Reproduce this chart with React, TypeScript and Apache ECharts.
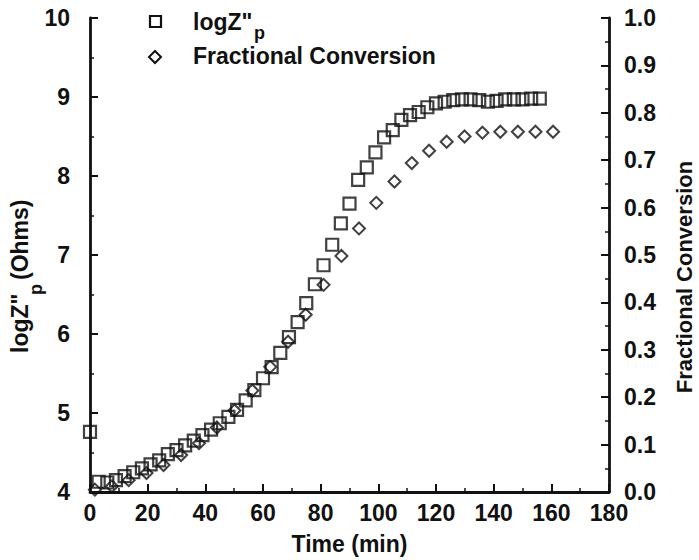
import React, { useEffect, useRef } from "react";
import * as echarts from "echarts";

const timeZ = [0, 3, 6, 9, 12, 15, 18, 21, 24, 27, 30, 33, 36, 39, 42, 45, 48, 51, 54, 57, 60, 63, 66, 69, 72, 75, 78, 81, 84, 87, 90, 93, 96, 99, 102, 105, 108, 111, 114, 117, 120, 123, 126, 129, 132, 135, 138, 141, 144, 147, 150, 153, 156];
const logZ = [4.76, 4.13, 4.12, 4.15, 4.2, 4.25, 4.3, 4.35, 4.4, 4.48, 4.53, 4.59, 4.65, 4.72, 4.79, 4.87, 4.95, 5.04, 5.16, 5.29, 5.44, 5.58, 5.76, 5.96, 6.15, 6.39, 6.63, 6.87, 7.13, 7.4, 7.65, 7.95, 8.11, 8.3, 8.49, 8.58, 8.71, 8.77, 8.81, 8.87, 8.92, 8.94, 8.96, 8.97, 8.97, 8.96, 8.94, 8.95, 8.97, 8.97, 8.97, 8.98, 8.98];

const timeC = [1.7, 7.6, 13.4, 19.6, 25.5, 31.6, 37.8, 44, 50.1, 56.3, 62.5, 68.7, 74.8, 81, 87.2, 93.3, 99.3, 105.6, 111.6, 117.6, 123.7, 129.9, 136.1, 142.3, 148.4, 154.5, 160.6];
const conversion = [0.005, 0.012, 0.025, 0.04, 0.057, 0.078, 0.103, 0.136, 0.172, 0.214, 0.264, 0.317, 0.374, 0.437, 0.498, 0.556, 0.61, 0.655, 0.694, 0.72, 0.739, 0.75, 0.758, 0.76, 0.76, 0.76, 0.76];

const FONT = "'Liberation Sans', Arial, sans-serif";
const INK = "#111";

export default function App() {
  const ref = useRef<HTMLDivElement>(null);
  useEffect(() => {
    if (!ref.current) return;
    const chart = echarts.init(ref.current, null, { renderer: "svg" });
    const axisCommon = {
      axisLine: { show: true, lineStyle: { color: INK, width: 2.8 } },
      axisTick: { show: true, inside: true, length: 8, lineStyle: { color: INK, width: 2 } },
      minorTick: { show: true, splitNumber: 2, length: 4, lineStyle: { color: INK, width: 1.5 } },
      splitLine: { show: false },
      minorSplitLine: { show: false },
      axisLabel: { color: INK, fontFamily: FONT, fontWeight: "bold", fontSize: 23 },
    };
    chart.setOption({
      animation: false,
      backgroundColor: "#fff",
      grid: { left: 90, right: 90, top: 18, bottom: 68 },
      xAxis: {
        type: "value",
        min: 0,
        max: 180,
        interval: 20,
        name: "Time (min)",
        nameLocation: "middle",
        nameGap: 40,
        nameTextStyle: { color: INK, fontFamily: FONT, fontWeight: "bold", fontSize: 23 },
        ...axisCommon,
        axisLabel: { ...axisCommon.axisLabel, margin: 9 },
      },
      yAxis: [
        {
          type: "value",
          min: 4,
          max: 10,
          interval: 1,
          position: "left",
          ...axisCommon,
          axisLabel: { ...axisCommon.axisLabel, margin: 20 },
        },
        {
          type: "value",
          min: 0,
          max: 1,
          interval: 0.1,
          position: "right",
          ...axisCommon,
          axisLabel: {
            ...axisCommon.axisLabel,
            margin: 15,
            formatter: (v: number) => v.toFixed(1),
          },
        },
      ],
      series: [
        {
          name: 'logZ"p',
          type: "scatter",
          yAxisIndex: 0,
          symbol: "rect",
          symbolSize: 12,
          itemStyle: { color: "rgba(0,0,0,0)", borderColor: INK, borderWidth: 2.2 },
          data: timeZ.map((t, i) => [t, logZ[i]]),
        },
        {
          name: "Fractional Conversion",
          type: "scatter",
          yAxisIndex: 1,
          symbol: "diamond",
          symbolSize: 12,
          itemStyle: { color: "rgba(0,0,0,0)", borderColor: INK, borderWidth: 2 },
          data: timeC.map((t, i) => [t, conversion[i]]),
        },
      ],
      graphic: [
        {
          type: "rect",
          shape: { x: 150, y: 16, width: 11, height: 11 },
          style: { fill: "none", stroke: INK, lineWidth: 2.2 },
        },
        {
          type: "polygon",
          shape: { points: [[155, 51], [161, 57], [155, 63], [149, 57]] },
          style: { fill: "none", stroke: INK, lineWidth: 2 },
        },
        {
          type: "text",
          x: 193,
          y: 22,
          style: { text: 'logZ"', fill: INK, font: `bold 23px ${FONT}`, textVerticalAlign: "middle" },
        },
        {
          type: "text",
          x: 254,
          y: 33,
          style: { text: "p", fill: INK, font: `bold 18px ${FONT}`, textVerticalAlign: "middle" },
        },
        {
          type: "text",
          x: 193,
          y: 56,
          style: { text: "Fractional Conversion", fill: INK, font: `bold 23px ${FONT}`, textVerticalAlign: "middle" },
        },
        {
          type: "group",
          x: 20,
          y: 353,
          rotation: Math.PI / 2,
          children: [
            {
              type: "text",
              x: 0,
              y: 0,
              style: { text: 'logZ"', fill: INK, font: `bold 23px ${FONT}`, textVerticalAlign: "middle" },
            },
            {
              type: "text",
              x: 58,
              y: 16,
              style: { text: "p", fill: INK, font: `bold 18px ${FONT}`, textVerticalAlign: "middle" },
            },
            {
              type: "text",
              x: 73,
              y: 0,
              style: { text: "(Ohms)", fill: INK, font: `bold 23px ${FONT}`, textVerticalAlign: "middle" },
            },
          ],
        },
        {
          type: "text",
          x: 684,
          y: 277,
          rotation: Math.PI / 2,
          style: {
            text: "Fractional Conversion",
            fill: INK,
            font: `bold 22px ${FONT}`,
            textAlign: "center",
            textVerticalAlign: "middle",
          },
        },
      ],
    });
    return () => chart.dispose();
  }, []);
  return (
    <div
      ref={ref}
      style={{ position: "absolute", left: 0, top: 0, width: 699, height: 560, background: "#fff" }}
    />
  );
}
